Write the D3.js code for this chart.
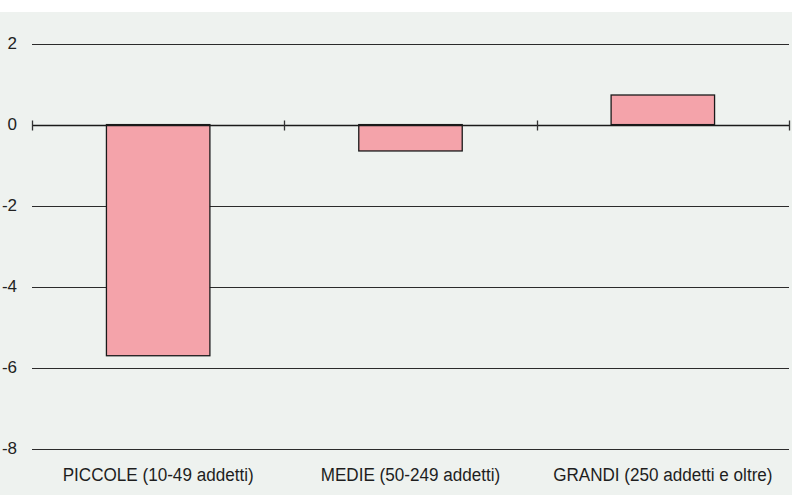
<!DOCTYPE html>
<html>
<head>
<meta charset="utf-8">
<script src="https://cdn.jsdelivr.net/npm/d3@7"></script>
<style>
  html, body { margin: 0; padding: 0; background: #ffffff; }
  svg { display: block; }
</style>
</head>
<body>
<svg id="chart" width="792" height="495"></svg>
<script>
// Variazione per classe dimensionale d'impresa
const categories = ["PICCOLE (10-49 addetti)", "MEDIE (50-249 addetti)", "GRANDI (250 addetti e oltre)"];
const values = [-5.7, -0.65, 0.73];
const yTicks = [2, 0, -2, -4, -6, -8];

const svg = d3.select("#chart");
const W = 792, H = 495;

// panel background
svg.append("rect").attr("x", 0).attr("y", 12).attr("width", W).attr("height", H - 12)
  .attr("fill", "#eef2ef");

const x = d3.scaleBand().domain(categories).range([32, 789]).padding(0);
const y = d3.scaleLinear().domain([-8, 2]).range([449, 43.5]);

// horizontal grid lines
svg.append("g").selectAll("line").data(yTicks).join("line")
  .attr("x1", 32).attr("x2", 789)
  .attr("y1", d => Math.round(y(d)) + 0.5).attr("y2", d => Math.round(y(d)) + 0.5)
  .attr("stroke", "#2b2b2b").attr("stroke-width", 1.2);

// y labels
svg.append("g").selectAll("text").data(yTicks).join("text")
  .attr("transform", d => `translate(17,${Math.round(y(d)) + 0.5})`)
  .attr("dy", "0.28em").attr("text-anchor", "end")
  .attr("font-family", "Liberation Sans, Arial, sans-serif").attr("font-size", 17)
  .attr("fill", "#222")
  .text(d => d);

// bars
const bw = x.bandwidth() * 0.41;
svg.append("g").selectAll("rect").data(values).join("rect")
  .attr("x", (d, i) => x(categories[i]) + (x.bandwidth() - bw) / 2)
  .attr("y", d => y(Math.max(0, d)))
  .attr("width", bw)
  .attr("height", d => Math.abs(y(d) - y(0)))
  .attr("fill", "#f4a3aa").attr("stroke", "#1a1a1a").attr("stroke-width", 1.3);

// zero axis with category tick marks
const y0 = Math.round(y(0)) + 0.5;
svg.append("line").attr("x1", 32).attr("x2", 789).attr("y1", y0).attr("y2", y0)
  .attr("stroke", "#1a1a1a").attr("stroke-width", 1.3);
const bounds = categories.map(c => x(c)).concat([x.range()[1]]);
svg.append("g").selectAll("line").data(bounds).join("line")
  .attr("x1", d => Math.round(d) + 0.5).attr("x2", d => Math.round(d) + 0.5)
  .attr("y1", y0 - 5).attr("y2", y0 + 5)
  .attr("stroke", "#333").attr("stroke-width", 1.3);

// category labels (condensed)
svg.append("g").selectAll("text").data(categories).join("text")
  .attr("transform", d => `translate(${x(d) + x.bandwidth() / 2},481) scale(0.9,1)`)
  .attr("text-anchor", "middle")
  .attr("font-family", "Liberation Sans, Arial, sans-serif").attr("font-size", 19)
  .attr("fill", "#1e1e1e")
  .text(d => d);
</script>
</body>
</html>
